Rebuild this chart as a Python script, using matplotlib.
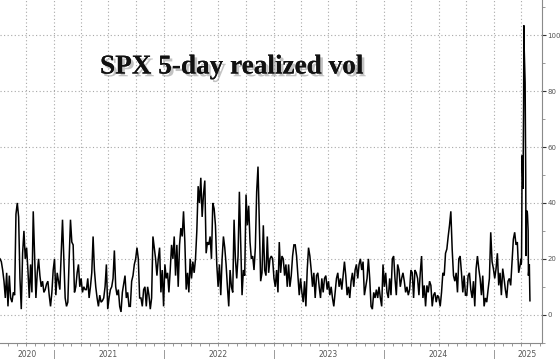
import matplotlib
matplotlib.use("Agg")
import matplotlib.pyplot as plt
import matplotlib.dates as mdates
import matplotlib.patheffects as pe
import matplotlib.transforms as mtrans
import pandas as pd

# ---- data ----
main_start, main_end = "2020-07-07", "2025-03-28"
vol_2020_21 = [20, 19, 16, 12, 6, 15, 3, 14, 6, 4.5,
               8, 7, 36, 40, 35, 13, 2, 22, 30, 20,
               24, 16, 6, 18, 8, 37, 21, 6, 15, 20,
               14, 10, 12, 8, 9, 11, 12, 7, 3, 8,
               16, 20, 7, 15, 12, 9, 22, 34, 20, 6,
               3, 4.5, 20, 34, 26, 25, 8, 10, 15, 18,
               10, 13, 8, 10, 9, 9, 13, 6, 10, 15,
               28, 16, 10, 6, 3, 7, 4.5, 5, 6, 10,
               18, 2, 6, 9, 10, 13, 23, 10, 7, 9,
               3, 1, 8, 11, 14, 6, 8, 3, 3, 12,
               14, 18, 20, 24, 20, 6]
vol_2021_22 = [6, 3, 9, 10, 3, 10, 7, 2, 6, 28,
               24, 20, 14, 20, 24, 8, 16, 3, 18, 13,
               15, 8, 16, 25, 20, 28, 14, 25, 10, 25,
               31, 28, 37, 26, 9, 15, 8, 20, 13, 19,
               15, 20, 30, 46, 40, 49, 35, 43, 48, 22,
               26, 25, 28, 20, 40, 38, 32, 18, 10, 18,
               7, 20, 28, 24, 18, 10, 3, 16, 10, 8,
               34, 20, 13, 21, 44, 26, 7, 16, 14, 43,
               32, 39, 26, 20, 21, 16, 24, 44, 53, 32,
               12, 15, 32, 16, 14, 28, 15, 20, 21, 20,
               13]
vol_2022_24 = [10, 16, 8, 26, 15, 21, 20, 14, 18, 10,
               18, 10, 14, 21, 25, 25, 21, 14, 7, 13,
               8, 4.5, 12, 3, 16, 24, 21, 16, 10, 15,
               6, 14, 15, 10, 6, 13, 8, 13, 14, 9,
               12, 7, 10, 6, 3, 8, 13, 15, 10, 13,
               9, 14, 19, 14, 7, 10, 6, 12, 15, 10,
               16, 18, 13, 18, 20, 16, 19, 7, 10, 13,
               20, 13, 3, 2, 8, 6, 9, 6, 10, 6,
               3, 18, 10, 15, 8, 6, 13, 7, 20, 21,
               13, 7, 18, 16, 10, 13, 15, 12, 8, 10,
               7]
vol_2024_25 = [9, 16, 15, 6, 16, 15, 13, 7, 15, 21,
               6, 10.5, 3, 10.5, 8, 12, 10.5, 3, 7, 8,
               4.5, 7, 6, 3, 8, 15, 14, 22, 23.5, 28,
               32, 37, 23.5, 14, 12, 15, 8, 20, 21, 15,
               8, 14, 7, 7, 14, 15, 9, 6, 12, 3,
               16.5, 21, 16.5, 13, 7, 14, 3, 6, 4.5, 9,
               13, 29.5, 19, 16.5, 13, 16.5, 22, 10.5, 15, 7,
               16.5, 13, 9, 6, 12, 13, 10.5, 19, 27, 29.5,
               25, 26, 15, 17.5]
daily_start = "2025-03-31"
vol_apr2025 = [20, 18, 19, 34, 57, 45, 58, 75, 103.5, 95, 83, 65, 50,
               21, 37, 37, 35.5, 33, 30, 14, 18, 12, 5]

year_labels = ["2020", "2021", "2022", "2023", "2024", "2025"]
year_label_dates = ["2020-10-04", "2021-07-02", "2022-07-02",
                    "2023-07-02", "2024-07-01", "2025-04-20"]
y_ticks = [0, 20, 40, 60, 80, 100]
title_text = "SPX 5-day realized vol"

vol_main = vol_2020_21 + vol_2021_22 + vol_2022_24 + vol_2024_25
dates = pd.date_range(main_start, main_end, periods=len(vol_main)).append(
    pd.bdate_range(daily_start, periods=len(vol_apr2025)))
values = vol_main + vol_apr2025

# ---- figure ----
W, H = 560, 359
fig = plt.figure(figsize=(W / 100, H / 100), dpi=100)
ax_bottom_px = 342.7
ax = fig.add_axes([0, 1 - ax_bottom_px / H, 542 / W, ax_bottom_px / H])

ax.plot(dates, values, color="black", lw=1.1, solid_joinstyle="miter")
ax.set_xlim(pd.Timestamp("2020-07-07"), pd.Timestamp("2025-06-09"))
ax.set_ylim(-9.8, 112.6)

grid_kw = dict(color="#a8a8a8", lw=0.8, linestyle=(0, (1, 2.2)), zorder=0)
for yv in y_ticks:
    ax.axhline(yv, **grid_kw)
for q in pd.date_range("2020-07-01", "2025-07-01", freq="QS"):
    ax.axvline(q, **grid_kw)

for s in ["left", "top"]:
    ax.spines[s].set_visible(False)
for s in ["right", "bottom"]:
    ax.spines[s].set_color("#8a8a8a")
    ax.spines[s].set_linewidth(0.8)

ax.yaxis.tick_right()
ax.set_yticks(y_ticks)
ax.set_yticks(range(-10, 111, 10), minor=True)
ax.tick_params(axis="y", which="major", length=3, width=0.8, colors="#333",
               labelcolor="#555", labelsize=5.0, pad=1.0)
ax.tick_params(axis="y", which="minor", length=2, width=0.6, colors="#888")

ax.xaxis.set_major_locator(mdates.YearLocator())
ax.xaxis.set_minor_locator(mdates.MonthLocator())
ax.xaxis.set_major_formatter(plt.NullFormatter())
ax.tick_params(axis="x", which="both", length=2.2, width=0.6, colors="#888")

trans = mtrans.blended_transform_factory(ax.transData, ax.transAxes)
for yr in range(2021, 2026):
    ax.plot([pd.Timestamp(f"{yr}-01-01")] * 2, [-0.02, -0.05], transform=trans,
            color="#9a9a9a", lw=0.7, clip_on=False)
for lab, d in zip(year_labels, year_label_dates):
    ax.text(pd.Timestamp(d), -0.035, lab, transform=trans, ha="center",
            va="center", fontsize=5.5, color="#555")

fig.text(232 / W, 1 - 67 / H, title_text, ha="center", va="center",
         fontsize=19.6, fontweight="bold", family="Liberation Serif",
         color="#111",
         path_effects=[pe.withSimplePatchShadow(offset=(2, -2),
                                                shadow_rgbFace="#888",
                                                alpha=0.5),
                       pe.Normal()])

fig.savefig("out.png", dpi=100)
